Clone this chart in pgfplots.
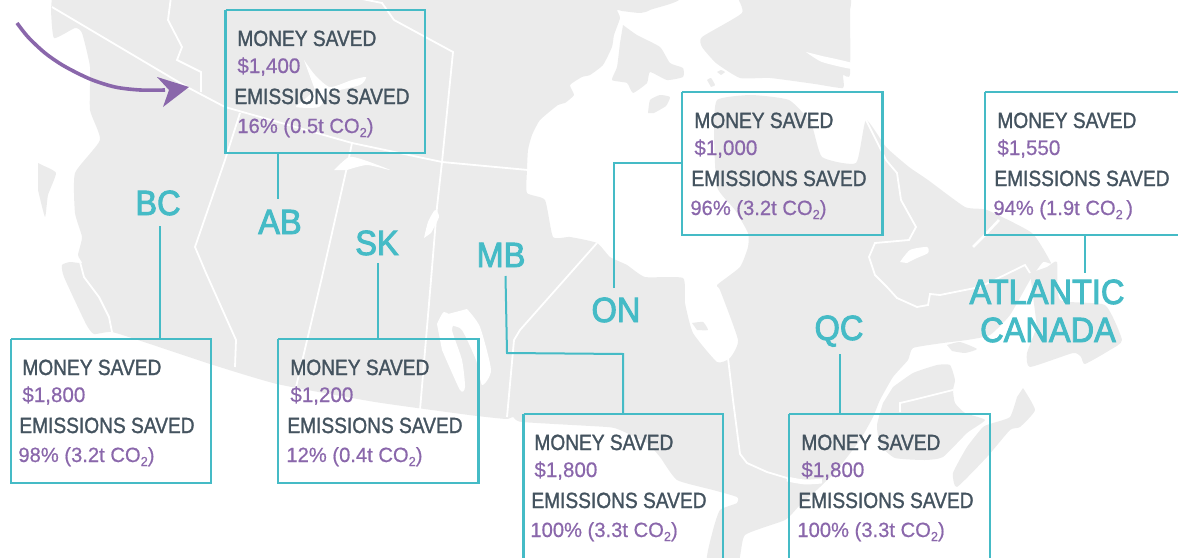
\documentclass[border=0pt]{standalone}
\usepackage{pgfplots}
\pgfplotsset{compat=1.18}
\usepackage{fontspec}
\setmainfont{Liberation Sans}
\newfontfamily\headfont[FakeStretch=0.87,FakeBold=1.3]{Liberation Sans}
\newfontfamily\valfont[FakeStretch=0.98,FakeBold=0.6]{Liberation Sans}
\newfontfamily\bigfont[FakeStretch=0.93,FakeBold=2.6]{Liberation Sans}
\definecolor{land}{HTML}{EBEBEB}
\definecolor{teal}{HTML}{45BBC6}
\definecolor{purp}{HTML}{8A67AB}
\definecolor{slate}{HTML}{44535F}
\newcommand{\co}{CO\raisebox{-2pt}{\fontsize{6.5}{6.5}\selectfont 2}}
% one text panel: box left, box top, heading indent, money, saving
\newcommand{\panel}[5]{%
  \node[anchor=base west,inner sep=0pt,text=slate,font=\headfont\fontsize{11}{11}\selectfont] at (axis cs:{#1+12},{#2+36}) {MONEY SAVED};
  \node[anchor=base west,inner sep=0pt,text=purp,font=\valfont\fontsize{10.5}{10.5}\selectfont] at (axis cs:{#1+12},{#2+63}) {#4};
  \node[anchor=base west,inner sep=0pt,text=slate,font=\headfont\fontsize{11}{11}\selectfont] at (axis cs:{#1+9},{#2+94}) {EMISSIONS SAVED};
  \node[anchor=base west,inner sep=0pt,text=purp,font=\valfont\fontsize{10.3}{10.3}\selectfont] at (axis cs:{#1+#3},{#2+123}) {#5};
}
\newcommand{\bigname}[3]{%
  \node[anchor=base,inner sep=0pt,text=teal,font=\bigfont\fontsize{17.5}{17.5}\selectfont] at (axis cs:#1,#2) {#3};
}
\begin{document}
\begin{tikzpicture}
\begin{axis}[
    width=589pt, height=278.5pt, scale only axis,
    xmin=0, xmax=1178, ymin=0, ymax=557, y dir=reverse,
    hide axis,
    landshape/.style={fill=land, draw=none, forget plot, smooth, tension=0.3},
    lake/.style={fill=white, draw=none, forget plot, smooth, tension=0.4},
    border/.style={white, line width=0.9pt, forget plot},
    lead/.style={teal, line width=1pt, forget plot},
    box/.style={teal, line width=1.2pt, forget plot, line join=miter},
]
% mainland
\addplot[landshape] coordinates {
(52,-5)(660,-5)(650,10)(640,13)(622,11)(617,10)(620,18)(614,35)(612,47)(603,65)(590,75)(582,77)(570,85)(574,95)(565,103)(558,105)(540,120)(532,135)(528,150)(527,170)(527,193)(545,200)(553,237)(570,237)(597,243)(610,257)(627,265)(645,277)(683,278)(685,303)(693,333)(717,362)(730,358)(738,340)(720,290)(717,285)(740,267)(748,247)(748,233)(735,210)(717,187)(714,133)(717,100)(751,95)(789,100)(811,123)(822,157)(856,163)(866,120)(886,147)(909,167)(928,180)(965,207)(987,210)(1032,233)(1051,263)(1043,262)(1030,280)(1010,315)(990,335)(967,340)(943,343)(913,348)(908,360)(893,377)(880,400)(873,417)(860,440)(837,470)(820,487)(800,505)(785,520)(745,535)(738,562)(707,562)(713,530)(720,510)(737,503)(737,497)(713,490)(677,480)(660,457)(647,443)(620,430)(607,427)(522,422)(513,417)(506,419)(469,415)(375,402)(277,384)(210,364)(150,344)(112,332)(94,334)(86,324)(64,277)(62,265)(70,262)(82,263)(78,255)(82,237)(75,213)(75,173)(100,140)(90,110)(90,67)(82,33)(75,28)(54,38)(51,10)
};
% arctic islands
\addplot[landshape] coordinates {(623,25)(637,35)(660,47)(670,63)(683,68)(683,77)(667,80)(650,72)(647,83)(633,93)(627,83)(612,80)(617,67)(620,43)};
\addplot[landshape] coordinates {(648,113)(650,100)(660,95)(670,97)(666,106)(654,113)};
\addplot[landshape] coordinates {(717,72)(721,70)(725,72)(721,75)};
\addplot[landshape] coordinates {(707,80)(711,78)(715,85)(711,87)};
\addplot[landshape] coordinates {(736,-5)(742,13)(702,37)(702,47)(716,63)(740,78)(770,78)(815,84)(843,88)(843,75)(850,74)(850,-5)};
\addplot[lake] coordinates {(806,52)(822,62)(852,69)(852,63)(822,56)};
\addplot[landshape] coordinates {(826,-5)(850,-5)(850,9)(838,5)};
\addplot[landshape] coordinates {(38,163)(42,165)(56,173)(48,195)(45,217)(38,190)};
% Newfoundland
\addplot[landshape] coordinates {(1030,273)(1047,267)(1057,262)(1060,300)(1105,305)(1122,340)(1110,350)(1085,364)(1081,357)(1073,353)(1030,367)(1027,353)(1037,327)};
% Anticosti
\addplot[landshape] coordinates {(947,345)(960,342)(977,349)(965,353)(952,351)};
% New Brunswick and Gaspe
\addplot[landshape] coordinates {(883,403)(877,425)(880,445)(895,458)(925,460)(943,457)(967,433)(985,420)(965,413)(955,403)(953,390)(955,380)(950,365)(937,365)(913,373)(893,387)};
% Nova Scotia
\addplot[landshape] coordinates {(1023,388)(1035,410)(1020,427)(1010,430)(987,457)(957,487)(953,473)(967,447)(983,427)(993,423)(1010,417)(1017,397)};
% lakes
\addplot[lake] coordinates {(304,60)(315,75)(330,87)(352,80)(366,77)(360,85)(330,93)(319,107)(296,107)(304,100)(315,90)};
\addplot[lake] coordinates {(334,170)(349,157)(364,160)(390,170)(367,165)(347,170)};
\addplot[lake] coordinates {(424,238)(428,222)(435,210)(439,217)(431,233)};
\addplot[lake] coordinates {(467,309)(480,327)(491,370)(482,385)(476,360)(462,330)(452,325)(448,314)};
\addplot[lake] coordinates {(437,324)(444,312)(456,320)(452,330)(462,360)(465,387)(460,390)(442,350)};
\addplot[lake] coordinates {(900,262)(910,250)(927,247)(928,253)(917,258)(907,263)};
\addplot[landshape] coordinates {(692,323)(703,322)(708,330)(697,330)};
% white boundaries
\addplot[border] coordinates {(52,7)(187,87)(225,107)(352,143)(442,162)(528,170)};
\addplot[border] coordinates {(171,-3)(168,20)(182,47)(177,60)(201,72)(201,92)};
\addplot[border] coordinates {(362,-1)(382,3)(394,20)(453,52)(442,162)(437,207)(431,280)(420,410)};
\addplot[border] coordinates {(240,113)(225,160)(195,247)(206,273)(236,340)(235,367)};
\addplot[border] coordinates {(352,143)(347,167)(322,277)(296,387)};
\addplot[border] coordinates {(597,243)(520,330)(514,340)(507,417)};
\addplot[border] coordinates {(80,262)(84,277)(99,297)(109,317)(112,332)};
\addplot[border] coordinates {(728,358)(733,400)(740,454)(747,463)(767,472)(787,478)};
\addplot[white, line width=2.4pt, forget plot, smooth] coordinates {(787,479)(805,482)(822,481)};
\addplot[border] coordinates {(866,120)(886,160)(897,173)(901,200)(916,227)(909,240)(875,243)(869,257)(875,275)(887,287)(897,298)(917,307)(928,305)(930,294)(940,295)(980,287)(1025,265)(1030,273)};
\addplot[white, line width=1.3pt, forget plot] coordinates {(973,247)(983,237)(999,220)};
\addplot[border] coordinates {(900,412)(900,403)(913,400)(953,390)};
% arrow
\addplot[purp, line width=1.8pt, smooth, forget plot] coordinates {(17,23)(28,37)(45,53)(64,66)(90,79)(115,87)(140,90)(165,90)};
\addplot[fill=purp, draw=none, forget plot] coordinates {(189,87)(157,77)(169,90)(163,107)};
% leader lines
\addplot[lead] coordinates {(278,153)(278,199)};
\addplot[lead] coordinates {(160,226)(160,339)};
\addplot[lead] coordinates {(378,263)(378,339)};
\addplot[lead] coordinates {(505.5,276)(507,353)(623,354)(623,414)};
\addplot[lead] coordinates {(614,288)(614,163)(682,163)};
\addplot[lead] coordinates {(840,354)(840,414)};
\addplot[lead] coordinates {(1085,235)(1085,273)};
% boxes
\addplot[box] coordinates {(225.5,10)(425,10)(425,153)(225.5,153)(225.5,10)};
\addplot[box] coordinates {(682,92)(882.5,92)(882.5,235)(682,235)(682,92)};
\addplot[box] coordinates {(985,92)(1190,92)(1190,235)(985,235)(985,92)};
\addplot[box] coordinates {(11,339)(211,339)(211,483)(11,483)(11,339)};
\addplot[box] coordinates {(278,339)(478.5,339)(478.5,483)(278,483)(278,339)};
\addplot[box] coordinates {(523.5,414)(723,414)(723,570)(523.5,570)(523.5,414)};
\addplot[box] coordinates {(789,414)(990,414)(990,570)(789,570)(789,414)};
% text
\panel{225}{10}{12}{\$1,400}{16\% (0.5t \co)}
\panel{682}{92}{8}{\$1,000}{96\% (3.2t \co)}
\panel{985}{92}{8}{\$1,550}{94\% (1.9t \co\,)}
\panel{10}{339}{8}{\$1,800}{98\% (3.2t \co)}
\panel{278}{339}{8}{\$1,200}{12\% (0.4t \co)}
\panel{522}{414}{8}{\$1,800}{100\% (3.3t \co)}
\panel{789}{414}{8}{\$1,800}{100\% (3.3t \co)}
\bigname{158}{215}{BC}
\bigname{280}{234}{AB}
\bigname{377}{255}{SK}
\bigname{501}{267}{MB}
\bigname{616}{322}{ON}
\bigname{839}{340}{QC}
\bigname{1047}{304}{ATLANTIC}
\bigname{1048}{342}{CANADA}
\end{axis}
\pgfresetboundingbox
\useasboundingbox (0,0) rectangle (589pt,278.5pt);
\end{tikzpicture}
\end{document}
